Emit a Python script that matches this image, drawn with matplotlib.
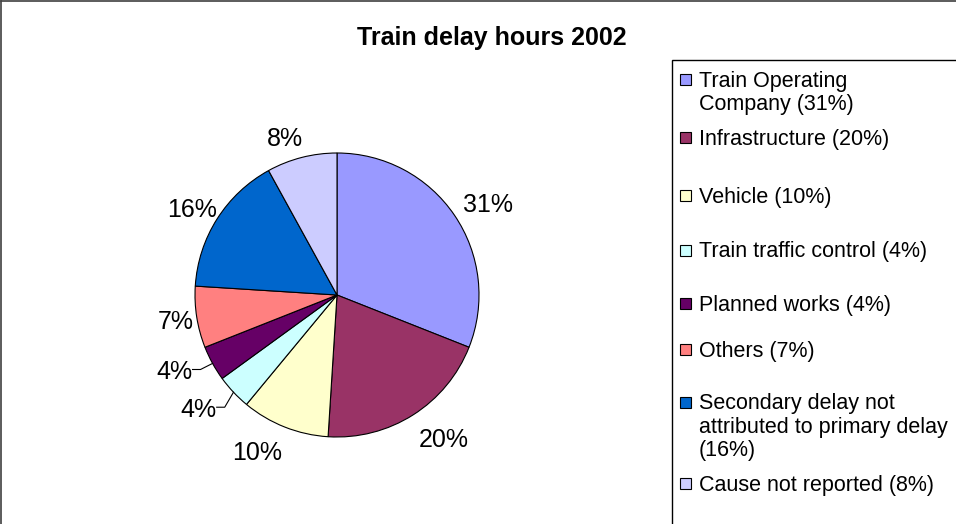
import numpy as np
import matplotlib
matplotlib.use('Agg')
import matplotlib.pyplot as plt
from matplotlib.patches import Rectangle

plt.rcParams['font.family'] = ['Liberation Sans', 'DejaVu Sans']

# Daten
values = [31, 20, 10, 4, 4, 7, 16, 8]
colors = ['#9999FF', '#993366', '#FFFFCC', '#CCFFFF', '#660066', '#FF8080', '#0066CC', '#CCCCFF']
legend_labels = ['Train Operating\nCompany (31%)',
                 'Infrastructure (20%)',
                 'Vehicle (10%)',
                 'Train traffic control (4%)',
                 'Planned works (4%)',
                 'Others (7%)',
                 'Secondary delay not\nattributed to primary delay\n(16%)',
                 'Cause not reported (8%)']
title = 'Train delay hours 2002'

# Layout (Pixel, y von oben)
W, H = 956, 524
cx, cy, R = 337, 295, 142
label_r = [176, 180, 177, 180, 180, 164, 168, 164]
label_dth = [-3.3, 4, -5.3, -3.4, -3.3, 0.6, 2.2, 4]
leader = [3, 4]
legend_y = [79, 137, 195, 250, 303, 349, 402, 483]


def py(y):
    return H - y


fig = plt.figure(figsize=(9.56, 5.24), dpi=100)
ax = fig.add_axes([0, 0, 1, 1])

wedges, _ = ax.pie(values, colors=colors, startangle=90, counterclock=False,
                   radius=R, center=(cx, py(cy)),
                   wedgeprops=dict(edgecolor='black', linewidth=0.8))
ax.set_xlim(0, W)
ax.set_ylim(0, H)
ax.set_aspect('equal')
ax.axis('off')

# Prozent-Beschriftungen
for i, (w, v) in enumerate(zip(wedges, values)):
    mid0 = np.deg2rad((w.theta1 + w.theta2) / 2)
    mid = mid0 + np.deg2rad(label_dth[i])
    tx = cx + label_r[i] * np.cos(mid)
    ty = py(cy) + label_r[i] * np.sin(mid)
    ax.text(tx, ty, f'{v}%', ha='center', va='center', fontsize=18)
    if i in leader:
        ex = cx + R * np.cos(mid0)
        ey = py(cy) + R * np.sin(mid0)
        right = tx + 18
        ax.plot([right, right + 8, ex], [ty + 3, ty + 3, ey], color='black', lw=0.8)

# Titel
ax.text(492, py(38), title, ha='center', va='center', fontsize=18, fontweight='bold')

# Legende
ax.add_patch(Rectangle((672, -20), 400, py(60) + 20, fill=False, ec='black', lw=1))
for lab, col, y in zip(legend_labels, colors, legend_y):
    ax.add_patch(Rectangle((680, py(y) - 5.5), 11, 11, fc=col, ec='black', lw=0.8))
    ax.text(699, py(y - 8.5), lab, ha='left', va='top', fontsize=15.5, linespacing=1.15)

# Rahmen
ax.plot([0.5, 0.5], [0, py(0.5)], color='#404040', lw=1.2)
ax.plot([0.5, W], [py(0.5), py(0.5)], color='#404040', lw=1.2)

plt.savefig('out.png', dpi=100)
